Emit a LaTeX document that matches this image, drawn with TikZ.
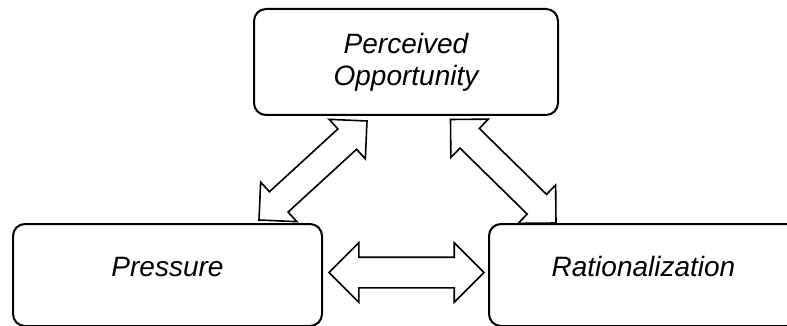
\documentclass[tikz,border=0pt]{standalone}
\usepackage{fontspec}
\setmainfont{Liberation Sans}
\usepackage{tikz}
\usetikzlibrary{calc, shapes.arrows, positioning}

\tikzset{
  box/.style={draw, line width=2pt, rounded corners=12pt, align=center,
    font=\itshape\fontsize{28}{32}\selectfont, text height=20pt},
  fatarrow/.style={double arrow, draw, line width=1.6pt, fill=white,
    inner xsep=0pt, inner ysep=14.5pt, double arrow head extend=14.5pt,
    double arrow tip angle=90},
}

\begin{document}
\begin{tikzpicture}[x=1pt, y=-1pt]
    \useasboundingbox (0,0) rectangle (787,326);

    % Ba khối của tam giác
    \node[box, minimum width=304, minimum height=106, text height=51pt, text depth=3pt] (opp) at (406,62) {Perceived\\Opportunity};
    \node[box, minimum width=309, minimum height=102, text depth=18pt] (press) at (167.5,275) {Pressure};
    \node[box, minimum width=309, minimum height=102, text depth=18pt] (rat) at (643.5,275) {Rationalization};

    % Đầu mút các mũi tên
    \coordinate (pt) at ([shift={(114,5)}]opp.south west);
    \coordinate (pb) at ([shift={(-64,-3)}]press.north east);
    \coordinate (rt) at ([shift={(-108.5,3.5)}]opp.south east);
    \coordinate (rb) at ([shift={(68,0)}]rat.north west);
    \coordinate (hl) at ([shift={(6,-2.5)}]press.east);
    \coordinate (hr) at ([shift={(-4,-2.5)}]rat.west);

    % Mũi tên hai chiều
    \path let \p1=($(pt)-(pb)$), \n1={veclen(\x1,\y1)}, \n2={atan2(\y1,\x1)} in
        node[fatarrow, inner ysep=13pt, double arrow head extend=13pt, minimum height=\n1, rotate=\n2] (arrL) at ($(pb)!0.5!(pt)$) {};
    \path let \p1=($(rb)-(rt)$), \n1={veclen(\x1,\y1)}, \n2={atan2(\y1,\x1)} in
        node[fatarrow, inner ysep=13pt, double arrow head extend=13pt, minimum height=\n1, rotate=\n2] (arrR) at ($(rt)!0.5!(rb)$) {};
    \path let \p1=($(hr)-(hl)$), \n1={veclen(\x1,\y1)} in
        node[fatarrow, minimum height=\n1] (arrH) at ($(hl)!0.5!(hr)$) {};
\end{tikzpicture}
\end{document}
